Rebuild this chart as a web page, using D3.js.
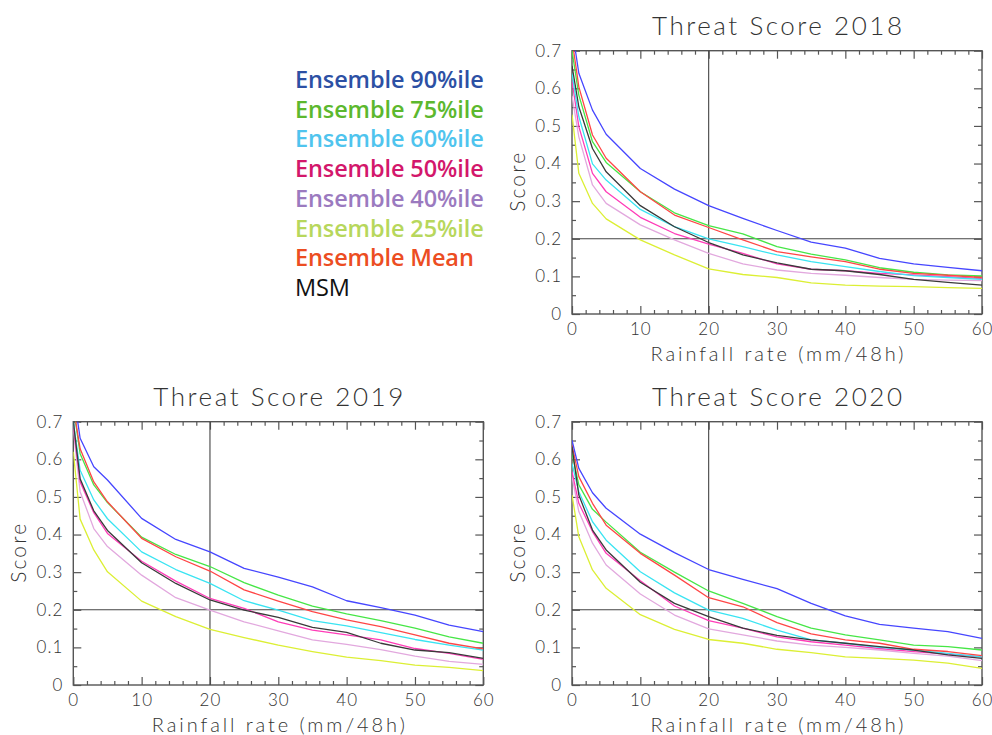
<!DOCTYPE html>
<html>
<head>
<meta charset="utf-8">
<script src="https://cdn.jsdelivr.net/npm/d3@7"></script>
<style>
  html, body { margin: 0; padding: 0; background: #fff; }
  svg { display: block; }
  .thin { font-family: Lato, "DejaVu Sans", sans-serif; font-weight: 300; fill: #333; }
  .legend text { font-family: "Open Sans", "Noto Sans", sans-serif; }
</style>
</head>
<body>
<svg id="chart" width="992" height="735"></svg>
<script>
// Rainfall thresholds (mm/48h) at which the threat score is evaluated
const thresholds = [0, 1, 3, 5, 10, 15, 20, 25, 30, 35, 40, 45, 50, 55, 60];

const seriesNames = ["Ensemble 90%ile", "Ensemble 75%ile", "Ensemble 60%ile", "Ensemble 50%ile",
                     "Ensemble 40%ile", "Ensemble 25%ile", "Ensemble Mean", "MSM"];
const lineColors   = ["#4646ff", "#46e646", "#3ae4f2", "#ff3cb8", "#e2a8de", "#dcef34", "#ff4646", "#3a3a3a"];
const legendColors = ["#2c50a4", "#5cb82e", "#4fc4ee", "#d3176b", "#9b7abf", "#b7d75c", "#ec4d22", "#111111"];

const xTicks = [0, 10, 20, 30, 40, 50, 60];
const yTicks = [0, 0.1, 0.2, 0.3, 0.4, 0.5, 0.6, 0.7];

// Threat scores, one row per series in seriesNames order
const ts2018 = [
  [0.76, 0.64, 0.542, 0.478, 0.387, 0.332, 0.288, 0.254, 0.222, 0.191, 0.175, 0.148, 0.133, 0.124, 0.115],
  [0.70, 0.582, 0.458, 0.403, 0.325, 0.269, 0.235, 0.213, 0.179, 0.159, 0.144, 0.123, 0.111, 0.104, 0.101],
  [0.64, 0.525, 0.399, 0.356, 0.278, 0.232, 0.200, 0.179, 0.157, 0.139, 0.126, 0.113, 0.102, 0.097, 0.092],
  [0.62, 0.498, 0.374, 0.325, 0.257, 0.214, 0.186, 0.161, 0.133, 0.119, 0.115, 0.108, 0.104, 0.099, 0.094],
  [0.58, 0.471, 0.343, 0.294, 0.237, 0.197, 0.161, 0.133, 0.117, 0.108, 0.103, 0.097, 0.092, 0.090, 0.089],
  [0.53, 0.374, 0.294, 0.253, 0.197, 0.157, 0.120, 0.105, 0.097, 0.083, 0.077, 0.074, 0.073, 0.070, 0.068],
  [0.73, 0.604, 0.476, 0.414, 0.325, 0.263, 0.230, 0.197, 0.166, 0.152, 0.139, 0.119, 0.108, 0.103, 0.097],
  [0.66, 0.551, 0.440, 0.378, 0.288, 0.232, 0.190, 0.157, 0.136, 0.119, 0.115, 0.105, 0.092, 0.084, 0.077]
];

const ts2019 = [
  [0.78, 0.656, 0.580, 0.545, 0.443, 0.387, 0.354, 0.310, 0.287, 0.261, 0.224, 0.206, 0.186, 0.159, 0.142],
  [0.74, 0.615, 0.532, 0.485, 0.393, 0.347, 0.315, 0.272, 0.239, 0.210, 0.189, 0.171, 0.151, 0.128, 0.111],
  [0.70, 0.571, 0.492, 0.442, 0.354, 0.307, 0.270, 0.224, 0.199, 0.171, 0.157, 0.139, 0.121, 0.106, 0.093],
  [0.69, 0.540, 0.458, 0.403, 0.329, 0.276, 0.230, 0.204, 0.168, 0.146, 0.133, 0.120, 0.097, 0.084, 0.068],
  [0.68, 0.514, 0.416, 0.368, 0.292, 0.232, 0.199, 0.168, 0.144, 0.120, 0.108, 0.094, 0.077, 0.063, 0.055],
  [0.62, 0.441, 0.359, 0.301, 0.223, 0.182, 0.148, 0.126, 0.106, 0.089, 0.074, 0.065, 0.053, 0.047, 0.038],
  [0.74, 0.628, 0.540, 0.487, 0.390, 0.341, 0.303, 0.253, 0.223, 0.195, 0.173, 0.155, 0.133, 0.111, 0.096],
  [0.70, 0.548, 0.463, 0.411, 0.325, 0.270, 0.226, 0.199, 0.180, 0.153, 0.140, 0.111, 0.093, 0.086, 0.071]
];

const ts2020 = [
  [0.651, 0.576, 0.511, 0.470, 0.401, 0.352, 0.307, 0.281, 0.256, 0.217, 0.184, 0.161, 0.151, 0.142, 0.124],
  [0.616, 0.532, 0.467, 0.433, 0.353, 0.300, 0.250, 0.217, 0.182, 0.151, 0.133, 0.120, 0.106, 0.102, 0.093],
  [0.589, 0.514, 0.434, 0.385, 0.301, 0.245, 0.199, 0.177, 0.146, 0.120, 0.111, 0.100, 0.093, 0.084, 0.075],
  [0.567, 0.483, 0.408, 0.350, 0.277, 0.210, 0.171, 0.151, 0.128, 0.115, 0.106, 0.097, 0.089, 0.082, 0.075],
  [0.554, 0.461, 0.377, 0.319, 0.242, 0.186, 0.149, 0.133, 0.117, 0.106, 0.100, 0.093, 0.084, 0.077, 0.065],
  [0.505, 0.394, 0.306, 0.257, 0.187, 0.148, 0.121, 0.111, 0.095, 0.086, 0.075, 0.071, 0.066, 0.058, 0.044],
  [0.638, 0.554, 0.483, 0.425, 0.350, 0.292, 0.232, 0.208, 0.166, 0.136, 0.120, 0.111, 0.095, 0.089, 0.078],
  [0.634, 0.505, 0.412, 0.359, 0.273, 0.217, 0.182, 0.151, 0.132, 0.120, 0.111, 0.102, 0.093, 0.080, 0.071]
];

const panels = [
  { title: "Threat Score 2018", data: ts2018, left: 572,  top: 50.7 },
  { title: "Threat Score 2019", data: ts2019, left: 73.3, top: 421.7 },
  { title: "Threat Score 2020", data: ts2020, left: 572,  top: 421.7 }
];
const plotW = 410, plotH = 263.3;

const svg = d3.select("#chart");
// series are stroked in this order so the MSM line sits on top
const drawOrder = [5, 4, 3, 2, 1, 6, 0, 7];

panels.forEach((p, pi) => {
  const g = svg.append("g").attr("transform", `translate(${p.left},${p.top})`);
  const x = d3.scaleLinear().domain([0, 60]).range([0, plotW]);
  const y = d3.scaleLinear().domain([0, 0.7]).range([plotH, 0]);

  const clipId = "clip" + pi;
  g.append("clipPath").attr("id", clipId)
    .append("rect").attr("width", plotW).attr("height", plotH);

  // inward ticks on all four sides: major every 10 / 0.1, minor every 2 / 0.05
  const axisStyle = sel => {
    sel.select(".domain").remove();
    sel.selectAll("line").attr("stroke", "#555").attr("stroke-width", 1.2);
  };
  const xMinor = d3.range(0, 61, 2).filter(v => v % 10 !== 0);
  const yMinor = [0.05, 0.15, 0.25, 0.35, 0.45, 0.55, 0.65];

  const bottom = g.append("g").attr("transform", `translate(0,${plotH})`);
  bottom.append("g").call(d3.axisBottom(x).tickValues(xTicks).tickSize(-8).tickFormat(d3.format("d")).tickPadding(9)).call(axisStyle);
  bottom.append("g").call(d3.axisBottom(x).tickValues(xMinor).tickSize(-4).tickFormat("")).call(axisStyle);
  g.append("g").call(d3.axisTop(x).tickValues(xTicks).tickSize(-8).tickFormat("")).call(axisStyle);
  g.append("g").call(d3.axisTop(x).tickValues(xMinor).tickSize(-4).tickFormat("")).call(axisStyle);

  g.append("g").call(d3.axisLeft(y).tickValues(yTicks).tickSize(-8).tickFormat(d => d === 0 ? "0" : d3.format(".1f")(d)).tickPadding(10)).call(axisStyle);
  g.append("g").call(d3.axisLeft(y).tickValues(yMinor).tickSize(-4).tickFormat("")).call(axisStyle);
  const right = g.append("g").attr("transform", `translate(${plotW},0)`);
  right.append("g").call(d3.axisRight(y).tickValues(yTicks).tickSize(-8).tickFormat("")).call(axisStyle);
  right.append("g").call(d3.axisRight(y).tickValues(yMinor).tickSize(-4).tickFormat("")).call(axisStyle);

  g.selectAll(".tick text")
    .attr("class", "thin")
    .attr("fill", "#333")
    .style("font-family", 'Lato, "DejaVu Sans", sans-serif')
    .style("font-weight", 300)
    .style("font-size", "17px")
    .style("letter-spacing", "1px");

  // frame
  g.append("rect").attr("width", plotW).attr("height", plotH)
    .attr("fill", "none").attr("stroke", "#555").attr("stroke-width", 1.4);

  // reference lines at 20 mm/48h and score 0.2
  g.append("line").attr("x1", x(20)).attr("x2", x(20)).attr("y1", 0).attr("y2", plotH)
    .attr("stroke", "#444").attr("stroke-width", 1.1);
  g.append("line").attr("x1", 0).attr("x2", plotW).attr("y1", y(0.2)).attr("y2", y(0.2))
    .attr("stroke", "#444").attr("stroke-width", 1.1);

  const line = d3.line().x((d, i) => x(thresholds[i])).y(d => y(d));
  const lines = g.append("g").attr("clip-path", `url(#${clipId})`);
  drawOrder.forEach(si => {
    lines.append("path").datum(p.data[si])
      .attr("d", line)
      .attr("fill", "none")
      .attr("stroke", lineColors[si])
      .attr("stroke-width", 1.3)
      .attr("stroke-linejoin", "round");
  });

  // titles and axis labels
  g.append("text").attr("class", "thin")
    .attr("x", plotW / 2).attr("y", -16)
    .attr("text-anchor", "middle")
    .attr("textLength", 250).attr("lengthAdjust", "spacing")
    .style("font-size", "26px")
    .text(p.title);

  g.append("text").attr("class", "thin")
    .attr("x", plotW / 2).attr("y", plotH + 47)
    .attr("text-anchor", "middle")
    .attr("textLength", 253).attr("lengthAdjust", "spacing")
    .style("font-size", "20px")
    .text("Rainfall rate (mm/48h)");

  g.append("text").attr("class", "thin")
    .attr("transform", `translate(-47,${plotH / 2}) rotate(-90)`)
    .attr("text-anchor", "middle")
    .attr("textLength", 59).attr("lengthAdjust", "spacing")
    .style("font-size", "21px")
    .text("Score");
});

// legend block
const legend = svg.append("g").attr("class", "legend").attr("transform", "translate(295,88)");
seriesNames.forEach((name, i) => {
  legend.append("text")
    .attr("x", 0).attr("y", i * 29.7)
    .attr("fill", legendColors[i])
    .style("font-size", "23.5px")
    .style("font-weight", name === "MSM" ? 400 : 600)
    .style("letter-spacing", "-0.1px")
    .text(name);
});
</script>
</body>
</html>
